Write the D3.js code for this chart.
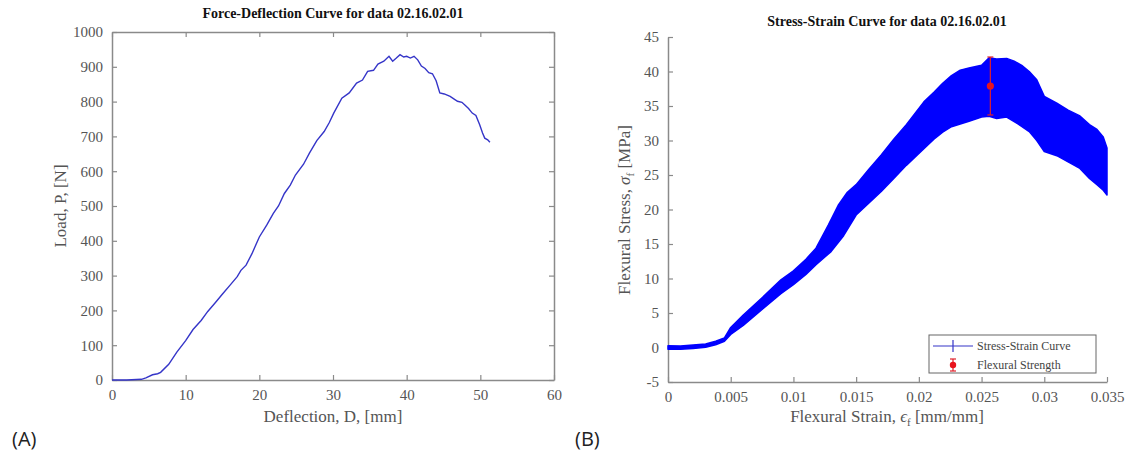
<!DOCTYPE html>
<html>
<head>
<meta charset="utf-8">
<script src="https://cdn.jsdelivr.net/npm/d3@7"></script>
<style>
  body { margin: 0; background: #fff; }
  svg { display: block; }
  .axlabel { font-family: "Liberation Serif", serif; font-size: 17px; fill: #555; }
  .title { font-family: "Liberation Serif", serif; font-size: 14px; font-weight: bold; fill: #111; }
  .panel { font-family: "Open Sans", "Liberation Sans", sans-serif; font-size: 20px; fill: #222; }
  .leg { font-family: "Liberation Serif", serif; font-size: 12px; fill: #444; }
</style>
</head>
<body>
<svg id="chart" width="1130" height="454"></svg>
<script>
// panel A: force vs deflection
var deflection = [0,2,4,4.6,5.5,6.2,6.6,7.7,8.8,10,11,12.1,13,14.1,15,16,17,17.5,18.2,19,20,21,21.9,22.6,23.4,24.2,24.9,26,26.8,27.8,28.8,29.5,30.1,31.2,32.2,33.2,34,34.7,35.5,36.1,36.9,37.6,38.1,38.6,39.1,39.6,40,40.5,41,41.5,42,42.5,43,43.5,44,44.5,45.1,45.9,46.4,46.9,47.5,47.9,48.4,48.9,49.4,49.9,50.3,50.6,51,51.3];
var load = [0,0,2,6,15,18,22,45,80,113,145,171,197,224,247,272,297,315,330,363,411,445,479,500,536,560,589,620,652,688,714,740,767,810,825,853,862,887,890,908,916,930,916,925,935,928,930,925,930,920,902,895,883,880,860,825,822,815,808,801,798,790,780,767,760,734,710,695,690,683];

// panel B: stress-strain band (upper and lower envelopes)
var strainUp = [0,0.001,0.002,0.003,0.0038,0.0045,0.005,0.006,0.0075,0.009,0.01,0.011,0.0118,0.0128,0.0136,0.0143,0.015,0.016,0.017,0.018,0.019,0.0204,0.0212,0.0219,0.0226,0.0233,0.024,0.025,0.0256,0.0262,0.027,0.0276,0.0282,0.0288,0.0294,0.03,0.031,0.0319,0.0328,0.0336,0.0342,0.0347,0.035];
var stressUp = [0.25,0.2,0.35,0.5,0.9,1.4,2.9,4.7,7.2,9.8,11.1,12.8,14.4,17.8,20.7,22.5,23.6,25.8,27.9,30.2,32.3,35.6,37,38.3,39.4,40.2,40.5,40.9,42,41.8,41.9,41.5,40.9,40,38.8,36.4,35.4,34.4,33.6,32.3,31.6,30.5,28.9];
var strainLo = [0,0.001,0.002,0.003,0.0038,0.0045,0.005,0.006,0.0075,0.009,0.01,0.011,0.0118,0.013,0.014,0.015,0.016,0.017,0.018,0.019,0.0204,0.0212,0.0219,0.0226,0.0233,0.024,0.025,0.0256,0.0262,0.027,0.0279,0.0288,0.0294,0.03,0.031,0.0319,0.0328,0.0336,0.0342,0.0347,0.035];
var stressLo = [-0.25,-0.25,-0.15,0.05,0.4,0.9,1.9,3.2,5.5,7.8,9.1,10.6,12,13.9,16.2,19.2,20.9,22.6,24.5,26.4,28.8,30.2,31.2,32,32.4,32.8,33.4,33.5,33.2,33.4,32.4,31.3,30,28.4,27.8,26.9,26,24.5,23.6,22.8,22.1];

// flexural strength with error bar
var strengthX = [0.0257];
var strengthY = [37.9];
var strengthLo = [33.7];
var strengthHi = [42.1];

var xTicksA = [0,10,20,30,40,50,60];
var yTicksA = [0,100,200,300,400,500,600,700,800,900,1000];
var xTicksB = [0,0.005,0.01,0.015,0.02,0.025,0.03,0.035];
var yTicksB = [-5,0,5,10,15,20,25,30,35,40,45];

var svg = d3.select("#chart");
var axisCol = "#8a8a8a";
var plain = function(d){ return String(d); };

function styleAxis(g){
    g.attr("font-family",null).attr("font-size",null);
    g.selectAll(".tick text")
        .style("font-family","'Liberation Serif', serif")
        .style("font-size","15px")
        .attr("fill","#555");
    g.select(".domain").attr("stroke", axisCol).attr("stroke-width", 1.5);
    g.selectAll(".tick line").attr("stroke", axisCol).attr("stroke-width", 1.2);
}

// ---------- panel A ----------
var xA = d3.scaleLinear().domain([0,60]).range([112,554]);
var yA = d3.scaleLinear().domain([0,1000]).range([380,32]);

svg.append("g").attr("transform","translate(0,380)")
    .call(d3.axisBottom(xA).tickValues(xTicksA).tickSize(-5).tickSizeOuter(0).tickPadding(9).tickFormat(plain))
    .call(styleAxis);
svg.append("g").attr("transform","translate(0,32)")
    .call(d3.axisTop(xA).tickValues(xTicksA).tickSize(-5).tickSizeOuter(0).tickFormat(""))
    .call(styleAxis);
svg.append("g").attr("transform","translate(112,0)")
    .call(d3.axisLeft(yA).tickValues(yTicksA).tickSize(-5).tickSizeOuter(0).tickPadding(9).tickFormat(plain))
    .call(styleAxis);
svg.append("g").attr("transform","translate(554,0)")
    .call(d3.axisRight(yA).tickValues(yTicksA).tickSize(-5).tickSizeOuter(0).tickFormat(""))
    .call(styleAxis);

var lineA = d3.line().x(function(d,i){ return xA(deflection[i]); }).y(function(d){ return yA(d); });
svg.append("path").datum(load)
    .attr("d", lineA)
    .attr("fill","none")
    .attr("stroke","#3535c8")
    .attr("stroke-width",1.4);

svg.append("text").attr("class","title").attr("x",333).attr("y",18).attr("text-anchor","middle")
    .text("Force-Deflection Curve for data 02.16.02.01");
svg.append("text").attr("class","axlabel").attr("x",333).attr("y",422).attr("text-anchor","middle")
    .text("Deflection, D, [mm]");
svg.append("text").attr("class","axlabel").attr("text-anchor","middle")
    .attr("transform","translate(66,206) rotate(-90)")
    .text("Load, P, [N]");
svg.append("text").attr("class","panel").attr("x",12).attr("y",446).text("(A)");

// ---------- panel B ----------
var xB = d3.scaleLinear().domain([0,0.035]).range([668,1107]);
var yB = d3.scaleLinear().domain([-5,45]).range([382,37]);

svg.append("g").attr("transform","translate(0,382)")
    .call(d3.axisBottom(xB).tickValues(xTicksB).tickSize(-5).tickSizeOuter(0).tickPadding(9).tickFormat(plain))
    .call(styleAxis);
svg.append("g").attr("transform","translate(668,0)")
    .call(d3.axisLeft(yB).tickValues(yTicksB).tickSize(-5).tickSizeOuter(0).tickPadding(9).tickFormat(plain))
    .call(styleAxis);

var bandPts = strainUp.map(function(s,i){ return [xB(s), yB(stressUp[i])]; })
    .concat(strainLo.map(function(s,i){ return [xB(s), yB(stressLo[i])]; }).reverse());
svg.append("path")
    .attr("d", d3.line()(bandPts) + "Z")
    .attr("fill","#0000ff")
    .attr("stroke","#0000ff")
    .attr("stroke-width",1.5)
    .attr("stroke-linejoin","round");

var eb = svg.append("g");
strengthX.forEach(function(s,i){
    var cx = xB(s);
    eb.append("line").attr("x1",cx).attr("x2",cx).attr("y1",yB(strengthLo[i])).attr("y2",yB(strengthHi[i]))
        .attr("stroke","#e0202a").attr("stroke-width",1.2);
    [strengthLo[i], strengthHi[i]].forEach(function(v){
        eb.append("line").attr("x1",cx-3).attr("x2",cx+3).attr("y1",yB(v)).attr("y2",yB(v))
            .attr("stroke","#e0202a").attr("stroke-width",1.2);
    });
    eb.append("circle").attr("cx",cx).attr("cy",yB(strengthY[i])).attr("r",3.6).attr("fill","#e8141e");
});

svg.append("text").attr("class","title").attr("x",887).attr("y",26).attr("text-anchor","middle")
    .text("Stress-Strain Curve for data 02.16.02.01");

var xl = svg.append("text").attr("class","axlabel").attr("x",887).attr("y",422).attr("text-anchor","middle");
xl.append("tspan").text("Flexural Strain, ");
xl.append("tspan").attr("font-style","italic").text("\u03F5");
xl.append("tspan").attr("font-size","11px").attr("dy",4).text("f");
xl.append("tspan").attr("dy",-4).text(" [mm/mm]");

var yl = svg.append("text").attr("class","axlabel").attr("text-anchor","middle")
    .attr("transform","translate(630,210) rotate(-90)");
yl.append("tspan").text("Flexural Stress, ");
yl.append("tspan").attr("font-style","italic").text("\u03C3");
yl.append("tspan").attr("font-size","11px").attr("dy",4).text("f");
yl.append("tspan").attr("dy",-4).text(" [MPa]");

svg.append("text").attr("class","panel").attr("x",575).attr("y",446).text("(B)");

// legend
var lg = svg.append("g");
lg.append("rect").attr("x",929).attr("y",335).attr("width",167).attr("height",38)
    .attr("fill","#fff").attr("stroke","#666").attr("stroke-width",1);
lg.append("line").attr("x1",933).attr("x2",973).attr("y1",346).attr("y2",346).attr("stroke","#3535c8").attr("stroke-width",1.2);
lg.append("line").attr("x1",953).attr("x2",953).attr("y1",340).attr("y2",352).attr("stroke","#3535c8").attr("stroke-width",1.2);
lg.append("line").attr("x1",953).attr("x2",953).attr("y1",359).attr("y2",371).attr("stroke","#e0202a").attr("stroke-width",1.2);
lg.append("line").attr("x1",950).attr("x2",956).attr("y1",359).attr("y2",359).attr("stroke","#e0202a").attr("stroke-width",1.2);
lg.append("line").attr("x1",950).attr("x2",956).attr("y1",371).attr("y2",371).attr("stroke","#e0202a").attr("stroke-width",1.2);
lg.append("circle").attr("cx",953).attr("cy",365).attr("r",3.2).attr("fill","#e8141e");
lg.append("text").attr("class","leg").attr("x",977).attr("y",350).text("Stress-Strain Curve");
lg.append("text").attr("class","leg").attr("x",977).attr("y",369).text("Flexural Strength");
</script>
</body>
</html>
